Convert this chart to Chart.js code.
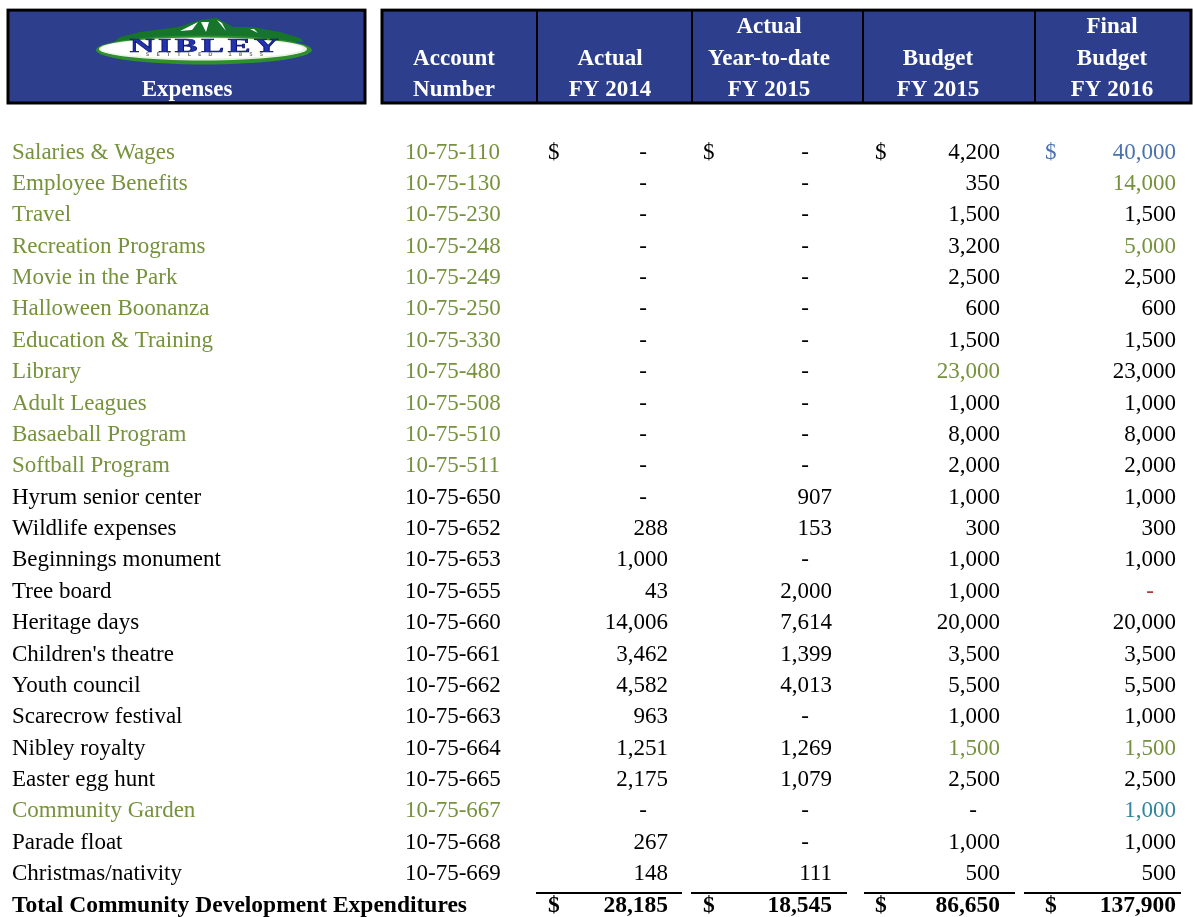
<!DOCTYPE html>
<html>
<head>
<meta charset="utf-8">
<title>Community Development Expenditures</title>
<script src="https://cdn.jsdelivr.net/npm/chart.js@4.4.1/dist/chart.umd.min.js"></script>
<style>
    html, body { margin: 0; padding: 0; background: #ffffff; }
    #wrap { position: relative; width: 1193px; height: 917px; }
</style>
</head>
<body>
<div id="wrap"><canvas id="budgetChart"></canvas></div>
<script>
// --- Table data ---

const expenseNames = [
    "Salaries & Wages", "Employee Benefits", "Travel", "Recreation Programs",
    "Movie in the Park", "Halloween Boonanza", "Education & Training", "Library",
    "Adult Leagues", "Basaeball Program", "Softball Program", "Hyrum senior center",
    "Wildlife expenses", "Beginnings monument", "Tree board", "Heritage days",
    "Children's theatre", "Youth council", "Scarecrow festival", "Nibley royalty",
    "Easter egg hunt", "Community Garden", "Parade float", "Christmas/nativity"
];

const accountNumbers = [
    "10-75-110", "10-75-130", "10-75-230", "10-75-248", "10-75-249", "10-75-250",
    "10-75-330", "10-75-480", "10-75-508", "10-75-510", "10-75-511", "10-75-650",
    "10-75-652", "10-75-653", "10-75-655", "10-75-660", "10-75-661", "10-75-662",
    "10-75-663", "10-75-664", "10-75-665", "10-75-667", "10-75-668", "10-75-669"
];

// null = shown as a dash
const actualFY2014 = [
    null, null, null, null, null, null, null, null, null, null, null, null,
    288, 1000, 43, 14006, 3462, 4582, 963, 1251, 2175, null, 267, 148
];
const actualYTD2015 = [
    null, null, null, null, null, null, null, null, null, null, null, 907,
    153, null, 2000, 7614, 1399, 4013, null, 1269, 1079, null, null, 111
];
const budgetFY2015 = [
    4200, 350, 1500, 3200, 2500, 600, 1500, 23000, 1000, 8000, 2000, 1000,
    300, 1000, 1000, 20000, 3500, 5500, 1000, 1500, 2500, null, 1000, 500
];
const finalBudgetFY2016 = [
    40000, 14000, 1500, 5000, 2500, 600, 1500, 23000, 1000, 8000, 2000, 1000,
    300, 1000, null, 20000, 3500, 5500, 1000, 1500, 2500, 1000, 1000, 500
];

const totalLabel = "Total Community Development Expenditures";
const columnTotals = [28185, 18545, 86650, 137900];

const headerTitles = [
    ["Account", "Number"],
    ["Actual", "FY 2014"],
    ["Actual", "Year-to-date", "FY 2015"],
    ["Budget", "FY 2015"],
    ["Final", "Budget", "FY 2016"]
];

// --- Styling / layout ---

const FONT = "'Liberation Serif', 'Times New Roman', serif";
const FONT_SIZE = 23;
const HEADER_BLUE = "#2c3e8c";
const GREEN = "#76923c";
const BLUE = "#4a72ae";
const TEAL = "#31869b";
const RED = "#b03a30";

const greenLabelRows = [0, 1, 2, 3, 4, 5, 6, 7, 8, 9, 10, 21];
const cellColors = { "0:3": BLUE, "1:3": GREEN, "3:3": GREEN, "7:2": GREEN,
    "14:3": RED, "19:2": GREEN, "19:3": GREEN, "21:3": TEAL };

const labelX = 12;
const accountX = 405;
const valueCols = [
    { dollar: 548, right: 668, dash: 647, lineFrom: 536, lineTo: 682 },
    { dollar: 703, right: 832, dash: 809, lineFrom: 691, lineTo: 847 },
    { dollar: 875, right: 1000, dash: 977, lineFrom: 864, lineTo: 1015 },
    { dollar: 1045, right: 1176, dash: 1154, lineFrom: 1024, lineTo: 1181 }
];
const headerCenters = [454, 610, 769, 938, 1112];
const headerDividers = [537, 692, 863, 1035];
const textNudge = 1.5;

function formatAmount(n) {
    return n.toLocaleString("en-US");
}

function drawLogo(ctx, cx, cy) {
    ctx.save();
    // mountains
    ctx.fillStyle = "#16752a";
    ctx.beginPath();
    ctx.moveTo(cx - 90, cy - 8);
    const peaks = [[-84, -13], [-64, -18], [-26, -23], [-4, -30], [13, -32],
        [29, -23], [49, -23], [76, -18], [96, -12]];
    peaks.forEach(p => ctx.lineTo(cx + p[0], cy + p[1]));
    ctx.lineTo(cx + 100, cy - 8);
    ctx.closePath();
    ctx.fill();
    // snow streaks
    ctx.fillStyle = "#ffffff";
    ctx.beginPath();
    ctx.moveTo(cx - 24, cy - 19); ctx.lineTo(cx - 6, cy - 28); ctx.lineTo(cx - 12, cy - 20); ctx.closePath();
    ctx.moveTo(cx - 3, cy - 28); ctx.lineTo(cx + 2, cy - 18); ctx.lineTo(cx + 5, cy - 28); ctx.closePath();
    ctx.moveTo(cx + 13, cy - 30); ctx.lineTo(cx + 22, cy - 19); ctx.lineTo(cx + 18, cy - 27); ctx.closePath();
    ctx.moveTo(cx + 46, cy - 21); ctx.lineTo(cx + 54, cy - 17); ctx.lineTo(cx + 50, cy - 21); ctx.closePath();
    ctx.fill();
    // oval
    ctx.fillStyle = "#2f8f2f";
    ctx.beginPath();
    ctx.ellipse(cx, cy, 108, 14.5, 0, 0, Math.PI * 2);
    ctx.fill();
    ctx.fillStyle = "#e8f2e0";
    ctx.beginPath();
    ctx.ellipse(cx - 1, cy - 1, 104, 11.5, 0, 0, Math.PI * 2);
    ctx.fill();
    ctx.fillStyle = "#ffffff";
    ctx.beginPath();
    ctx.ellipse(cx - 2, cy - 1.5, 101, 10, 0, 0, Math.PI * 2);
    ctx.fill();
    // name
    ctx.translate(cx + 2, cy - 3);
    ctx.scale(1.8, 1);
    ctx.font = "bold 19px " + FONT;
    ctx.letterSpacing = "2px";
    ctx.textAlign = "center";
    ctx.textBaseline = "middle";
    ctx.fillStyle = "#2233b0";
    ctx.fillText("NIBLEY", 0, 0);
    ctx.lineWidth = 0.6;
    ctx.strokeStyle = "#0c1670";
    ctx.strokeText("NIBLEY", 0, 0);
    ctx.restore();
    ctx.save();
    ctx.font = "bold 5px 'DejaVu Sans', sans-serif";
    ctx.letterSpacing = "7px";
    ctx.textAlign = "center";
    ctx.textBaseline = "middle";
    ctx.fillStyle = "#777777";
    ctx.fillText("SETTLED 1855", cx + 4, cy + 5);
    ctx.restore();
}

// --- Table drawing plugin (positions come from the chart scales) ---

const tablePlugin = {
    id: "budgetTable",
    afterDraw(chart) {
        const ctx = chart.ctx;
        const xs = chart.scales.x;
        const ys = chart.scales.y;
        const px = v => xs.getPixelForValue(v);
        const py = v => ys.getPixelForValue(v);

        ctx.save();

        // header boxes
        const top = py(-4.49), bottom = py(-1.53);
        ctx.fillStyle = HEADER_BLUE;
        ctx.strokeStyle = "#000000";
        ctx.lineWidth = 3;
        ctx.fillRect(px(8), top, px(365) - px(8), bottom - top);
        ctx.strokeRect(px(8), top, px(365) - px(8), bottom - top);
        ctx.fillRect(px(382), top, px(1191) - px(382), bottom - top);
        ctx.strokeRect(px(382), top, px(1191) - px(382), bottom - top);
        ctx.lineWidth = 2;
        headerDividers.forEach(d => {
            ctx.beginPath();
            ctx.moveTo(px(d), top);
            ctx.lineTo(px(d), bottom);
            ctx.stroke();
        });

        drawLogo(ctx, px(204), py(-3.22));

        ctx.fillStyle = "#ffffff";
        ctx.font = "bold " + FONT_SIZE + "px " + FONT;
        ctx.textAlign = "center";
        ctx.textBaseline = "middle";
        ctx.fillText("Expenses", px(187), py(-2) + 2);
        headerTitles.forEach((lines, c) => {
            const start = -1 - lines.length;
            lines.forEach((line, k) => ctx.fillText(line, px(headerCenters[c]), py(start + k) + 2));
        });

        // body rows
        const series = [actualFY2014, actualYTD2015, budgetFY2015, finalBudgetFY2016];
        ctx.font = FONT_SIZE + "px " + FONT;
        expenseNames.forEach((name, r) => {
            const y = py(r) + textNudge;
            const labelColor = greenLabelRows.includes(r) ? GREEN : "#000000";
            ctx.fillStyle = labelColor;
            ctx.textAlign = "left";
            ctx.fillText(name, px(labelX), y);
            ctx.fillText(accountNumbers[r], px(accountX), y);

            series.forEach((values, c) => {
                const col = valueCols[c];
                ctx.fillStyle = cellColors[r + ":" + c] || "#000000";
                if (r === 0) {
                    ctx.textAlign = "left";
                    ctx.fillText("$", px(col.dollar), y);
                }
                ctx.textAlign = "right";
                const v = values[r];
                if (v === null) {
                    ctx.fillText("-", px(col.dash), y);
                } else {
                    ctx.fillText(formatAmount(v), px(col.right), y);
                }
            });
        });

        // total row
        const totalRow = expenseNames.length;
        const ty = py(totalRow) + textNudge;
        const lineY = py(totalRow - 0.35);
        ctx.strokeStyle = "#000000";
        ctx.lineWidth = 2;
        valueCols.forEach(col => {
            ctx.beginPath();
            ctx.moveTo(px(col.lineFrom), lineY);
            ctx.lineTo(px(col.lineTo), lineY);
            ctx.stroke();
        });
        ctx.fillStyle = "#000000";
        ctx.font = "bold " + (FONT_SIZE + 0.5) + "px " + FONT;
        ctx.textAlign = "left";
        ctx.fillText(totalLabel, px(labelX), ty);
        columnTotals.forEach((t, c) => {
            const col = valueCols[c];
            ctx.textAlign = "left";
            ctx.fillText("$", px(col.dollar), ty);
            ctx.textAlign = "right";
            ctx.fillText(formatAmount(t), px(col.right), ty);
        });

        ctx.restore();
    }
};

// Row i sits at 151 + 31.375 * i pixels from the top
const rowStep = 31.375;
const firstRowY = 151;
const canvasH = 917;

new Chart(document.getElementById("budgetChart"), {
    type: "scatter",
    data: { datasets: [] },
    options: {
        responsive: true,
        maintainAspectRatio: false,
        animation: false,
        layout: { padding: 0 },
        plugins: { legend: { display: false }, tooltip: { enabled: false } },
        scales: {
            x: { type: "linear", min: 0, max: 1193, display: false },
            y: {
                type: "linear",
                reverse: true,
                min: -firstRowY / rowStep,
                max: (canvasH - firstRowY) / rowStep,
                display: false
            }
        }
    },
    plugins: [tablePlugin]
});
</script>
</body>
</html>
